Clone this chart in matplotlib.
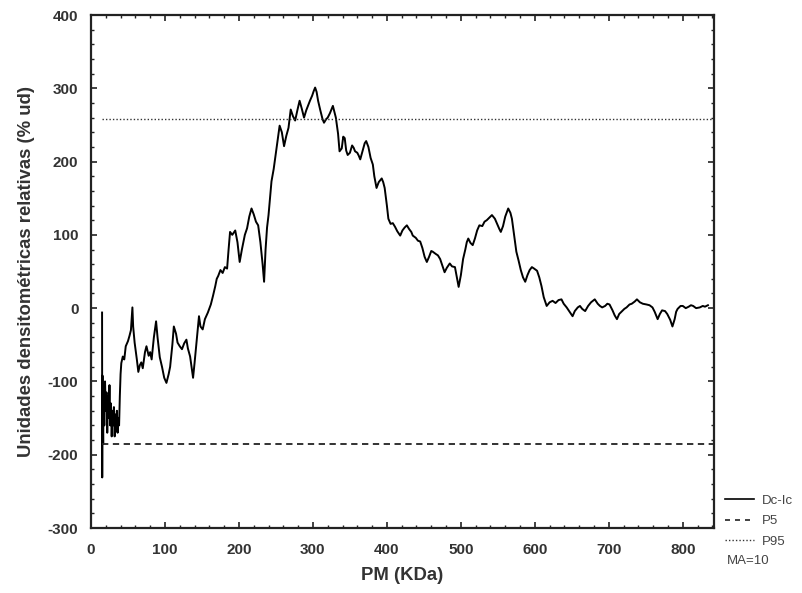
import matplotlib
matplotlib.use("Agg")
import matplotlib.pyplot as plt
import numpy as np
from matplotlib.lines import Line2D
from matplotlib.ticker import MultipleLocator

# moving-average profile Dc-Ic (MA=10) vs molecular weight
pm_kda = [15, 15.2, 15.5, 16, 16.5, 17, 18, 19, 20, 21, 22, 23, 24, 25, 26, 27, 28, 29, 30,
          31, 32, 33, 34, 35, 36, 37, 38, 39, 40, 41, 43, 45, 47, 50, 52, 54, 56, 57, 59,
          62, 64, 66, 68, 70, 73, 75, 78, 80, 82, 85, 88, 90, 93, 96, 99, 102, 105, 107,
          110, 112, 115, 117, 120, 123, 126, 129, 131, 134, 136, 138, 140, 143, 146, 148,
          151, 154, 158, 162, 165, 168, 170, 172, 175, 178, 181, 184, 186, 188, 191, 195,
          198, 201, 204, 208, 211, 214, 217, 220, 223, 226, 229, 232, 234, 236, 238, 240,
          242, 244, 247, 249, 252, 255, 258, 261, 264, 267, 270, 273, 276, 279, 282, 285,
          288, 291, 294, 296, 299, 301, 303, 305, 307, 310, 313, 315, 318, 320, 323, 327,
          329, 331, 334, 336, 339, 341, 343, 345, 347, 350, 353, 355, 357, 360, 362, 364,
          367, 370, 372, 375, 378, 381, 383, 386, 389, 393, 395, 397, 400, 402, 405, 408,
          411, 414, 418, 421, 424, 427, 430, 433, 435, 439, 442, 445, 448, 451, 454, 457,
          460, 462, 466, 469, 472, 475, 478, 481, 485, 488, 492, 494, 497, 500, 503, 506,
          508, 510, 513, 516, 519, 522, 525, 529, 532, 535, 538, 542, 546, 549, 552, 554,
          557, 560, 564, 567, 569, 572, 575, 578, 581, 584, 587, 590, 593, 596, 599, 603,
          606, 609, 612, 616, 620, 624, 628, 632, 636, 639, 643, 647, 651, 654, 658, 661,
          664, 668, 672, 676, 681, 685, 688, 691, 695, 698, 701, 705, 708, 711, 714, 718,
          721, 724, 728, 731, 735, 738, 742, 746, 751, 755, 759, 762, 766, 769, 772, 776,
          779, 783, 786, 789, 791, 793, 797, 800, 804, 808, 811, 814, 818, 823, 827, 830, 834]
dc_ic = [-6, -231, -92, -150, -185, -110, -160, -100, -140, -115, -170, -120, -150, -105, -160,
         -130, -175, -140, -160, -135, -175, -145, -168, -140, -170, -150, -160, -120, -90,
         -75, -66, -70, -52, -45, -38, -30, 1, -25, -47, -70, -87, -78, -74, -82, -60, -52,
         -65, -60, -70, -40, -18, -40, -67, -80, -95, -102, -90, -80, -50, -25, -35, -47,
         -52, -56, -48, -43, -55, -66, -80, -95, -75, -43, -11, -25, -29, -15, -6, 5, 17,
         30, 40, 44, 52, 48, 56, 54, 80, 104, 100, 106, 90, 63, 80, 100, 109, 125, 136, 128,
         118, 113, 90, 60, 36, 80, 110, 127, 150, 173, 190, 205, 228, 249, 240, 221, 235,
         246, 271, 262, 256, 270, 283, 272, 260, 270, 278, 283, 290, 296, 301, 295, 283,
         270, 258, 253, 258, 260, 266, 276, 268, 260, 238, 214, 218, 234, 232, 215, 209,
         212, 222, 219, 214, 212, 208, 203, 214, 225, 228, 220, 205, 196, 180, 164, 172,
         177, 172, 164, 140, 122, 115, 116, 111, 105, 99, 106, 110, 113, 108, 104, 99, 96,
         92, 91, 82, 70, 63, 70, 78, 77, 74, 72, 67, 58, 49, 55, 61, 57, 56, 45, 29, 45, 67,
         80, 90, 95, 89, 86, 95, 106, 113, 112, 118, 120, 123, 127, 122, 115, 108, 104, 112,
         125, 136, 130, 122, 100, 77, 65, 52, 42, 36, 45, 52, 56, 54, 51, 42, 30, 15, 3, 8,
         10, 7, 11, 12, 6, 1, -5, -11, -4, 1, 3, -1, -4, 3, 8, 12, 6, 3, 1, 3, 6, 5, -3,
         -10, -15, -8, -4, -1, 1, 5, 6, 9, 12, 8, 6, 5, 4, 1, -5, -15, -8, -3, -4, -8, -16,
         -25, -15, -5, -1, 3, 3, 0, 2, 4, 3, 0, 1, 3, 2, 4]

p5 = -185
p95 = 258
x_span = [15, 842]

plt.rcParams['font.family'] = ['Liberation Sans', 'DejaVu Sans']
plt.rcParams['axes.unicode_minus'] = False

fig = plt.figure(figsize=(8.03, 5.93), dpi=100)
ax = fig.add_axes([0.1133, 0.1096, 0.7757, 0.8651])

ax.plot(pm_kda, dc_ic, color='black', lw=1.4)
ax.plot(x_span, [p5, p5], color='#222222', lw=1.3, ls=(0, (3.5, 2.5)))
ax.plot(x_span, [p95, p95], color='#333333', lw=1.0, ls=(0, (1, 1.5)))

ax.set_xlim(0, 842)
ax.set_ylim(-300, 400)
ax.xaxis.set_major_locator(MultipleLocator(100))
ax.xaxis.set_minor_locator(MultipleLocator(20))
ax.yaxis.set_major_locator(MultipleLocator(100))
ax.yaxis.set_minor_locator(MultipleLocator(20))
ax.tick_params(which='both', direction='in', top=True, right=True, color='#222222')
ax.tick_params(which='major', length=4, width=1.2)
ax.tick_params(which='minor', length=2.5, width=1.0)
ax.tick_params(axis='x', pad=11)
ax.tick_params(axis='y', pad=9)
for spine in ax.spines.values():
    spine.set_linewidth(1.6)
    spine.set_color('#222222')
for lab in ax.get_xticklabels() + ax.get_yticklabels():
    lab.set_fontweight('bold')
    lab.set_fontsize(11)
    lab.set_color('#333333')

ax.set_xlabel('PM (KDa)', fontsize=13.3, fontweight='bold', color='#333333', labelpad=7)
ax.set_ylabel('Unidades densitométricas relativas (% ud)', fontsize=13.3,
              fontweight='bold', color='#333333', labelpad=9)

handles = [Line2D([], [], color='black', lw=1.2),
           Line2D([], [], color='#222222', lw=1.2, ls=(0, (3, 3))),
           Line2D([], [], color='#333333', lw=1.0, ls=(0, (1, 1.5)))]
fig.legend(handles, ['Dc-Ic', 'P5', 'P95'], loc='upper left',
           bbox_to_anchor=(0.895, 0.177), frameon=False, fontsize=9.5,
           handlelength=2.2, handletextpad=0.6, labelspacing=0.62,
           borderpad=0, labelcolor='#444444')
fig.text(0.905, 0.054, 'MA=10', fontsize=9.5, color='#444444', va='center')

fig.savefig('out.png', dpi=100)
